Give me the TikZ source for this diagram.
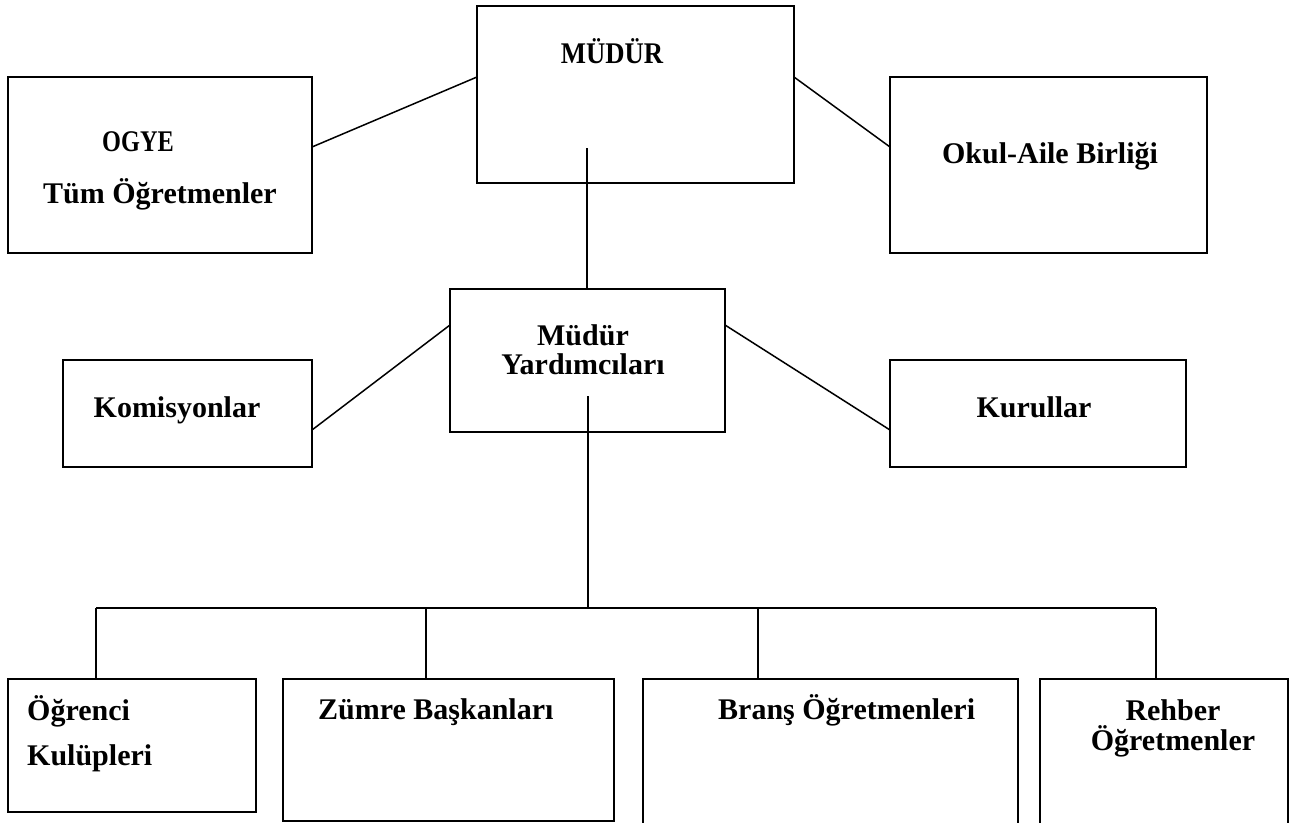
\documentclass[tikz,border=0pt]{standalone}
\usepackage{fontspec}
\setmainfont{Liberation Serif}
\usetikzlibrary{calc}
\begin{document}
\begin{tikzpicture}[x=1bp,y=-1bp,
  box/.style={draw=black, line width=2bp, rectangle, inner sep=0pt, outer sep=0pt},
  lbl/.style={inner sep=0pt, anchor=base, font=\bfseries\fontsize{30bp}{36bp}\selectfont},
  lbll/.style={lbl, anchor=base west},
  conn/.style={draw=black, line width=1.5bp}]
\useasboundingbox (0,0) rectangle (1293,823);
% boxes
\node[box, minimum width=317bp, minimum height=177bp] (mudur) at (635.5,94.5) {};
\node[box, minimum width=304bp, minimum height=176bp] (ogye) at (160,165) {};
\node[box, minimum width=317bp, minimum height=176bp] (okul) at (1048.5,165) {};
\node[box, minimum width=275bp, minimum height=143bp] (myrd) at (587.5,360.5) {};
\node[box, minimum width=249bp, minimum height=107bp] (komis) at (187.5,413.5) {};
\node[box, minimum width=296bp, minimum height=107bp] (kurul) at (1038,413.5) {};
\node[box, minimum width=248bp, minimum height=133bp] (ogrenci) at (132,745.5) {};
\node[box, minimum width=331bp, minimum height=142bp] (zumre) at (448.5,750) {};
\node[box, minimum width=375bp, minimum height=151bp] (brans) at (830.5,754.5) {};
\node[box, minimum width=248bp, minimum height=151bp] (rehber) at (1164,754.5) {};
% texts
\node[lbl] (tmudur) at (612,63) {\scalebox{0.89}[1]{MÜDÜR}};
\node[lbl] (togye) at (138,151) {\scalebox{0.81}[1]{OGYE}};
\node[lbl] (ttum) at (160,203) {Tüm Öğretmenler};
\node[lbl] (tokul) at (1050,163) {Okul-Aile Birliği};
\node[lbl] (tmyrd1) at (583,345) {Müdür};
\node[lbl] (tmyrd2) at (583,374) {Yardımcıları};
\node[lbl] (tkomis) at (177,417) {Komisyonlar};
\node[lbl] (tkurul) at (1034,417) {Kurullar};
\node[lbll] (togr1) at (27,720) {Öğrenci};
\node[lbll] (togr2) at (27,765) {Kulüpleri};
\node[lbll] (tzumre) at (318,719) {Zümre Başkanları};
\node[lbll] (tbrans) at (718,719) {Branş Öğretmenleri};
\node[lbl] (treh1) at (1173,720) {Rehber};
\node[lbl] (treh2) at (1173,750) {Öğretmenler};
% diagonal connectors
\draw[conn] ([yshift=18bp]ogye.east) -- ([yshift=17.5bp]mudur.west);
\draw[conn] ([yshift=17.5bp]mudur.east) -- ([yshift=18bp]okul.west);
\draw[conn] ([yshift=-16.5bp]komis.east) -- ([yshift=35.5bp]myrd.west);
\draw[conn] ([yshift=35.5bp]myrd.east) -- ([yshift=-16.5bp]kurul.west);
% tree connectors
\coordinate (m1) at (587,148);
\coordinate (y1) at (588,396);
\coordinate (bL) at (96,608);
\coordinate (b2) at (426,608);
\coordinate (b3) at (758,608);
\coordinate (bR) at (1156,608);
\draw[conn] (m1) -- (m1 |- myrd.north);
\draw[conn] (y1) -- (y1 |- bL);
\draw[conn] (bL) -- (bR);
\draw[conn] (bL) -- (bL |- ogrenci.north);
\draw[conn] (b2) -- (b2 |- zumre.north);
\draw[conn] (b3) -- (b3 |- brans.north);
\draw[conn] (bR) -- (bR |- rehber.north);
\end{tikzpicture}
\end{document}
